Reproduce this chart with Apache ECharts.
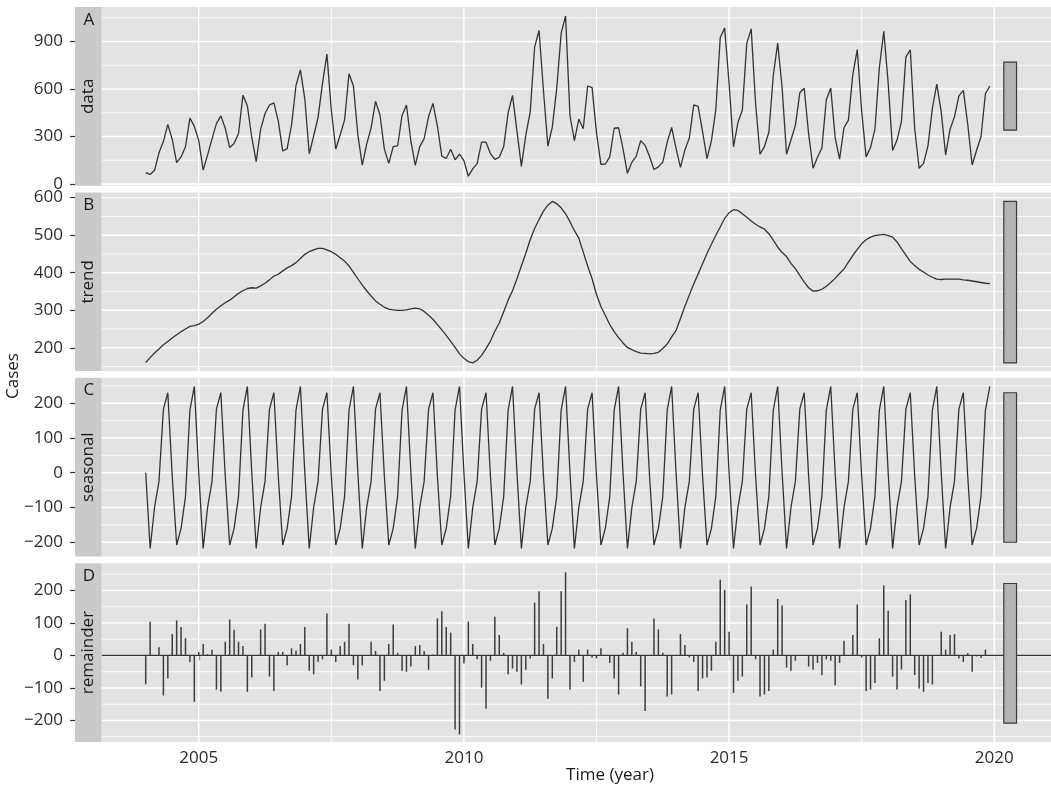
<!DOCTYPE html>
<html><head><meta charset="utf-8">
<script src="https://cdn.jsdelivr.net/npm/echarts@6/dist/echarts.min.js"></script>
<style>html,body{margin:0;padding:0;background:#fff}#c{width:1051px;height:789px}</style>
</head><body><div id="c"></div>
<script>
// ---- data (monthly, Jan 2004 - Dec 2019) ----
const startYear = 2004;
const frequency = 12;
const dataValues = [
 72,60,86,197,268,376,282,135,171,235,417,364,
 274,87,184,285,381,430,352,230,255,319,561,494,
 292,141,345,445,499,512,397,208,223,373,622,721,
 537,191,303,421,636,820,464,221,309,405,696,619,
 310,119,252,355,522,437,220,130,236,240,433,499,
 270,117,236,286,426,509,366,176,161,219,153,189,
 147,49,95,130,264,264,192,155,169,236,449,560,
 334,111,308,454,864,970,589,239,359,604,951,1061,
 431,274,410,349,619,608,323,124,126,171,352,355,
 221,67,137,176,274,244,174,91,108,138,264,357,
 225,105,215,290,500,490,330,160,272,470,925,985,
 633,235,388,467,888,980,507,188,236,327,685,890,
 608,188,278,370,576,605,316,99,169,227,532,606,
 293,157,355,403,692,849,461,171,230,346,734,965,
 637,212,277,396,801,848,349,99,130,241,479,631,
 455,183,346,424,557,591,377,120,213,298,570,619
];
const trendValues = [
 161,174,186,197,208,217,226,235,243,250,257,259,
 263,270,280,292,303,312,320,327,336,345,352,358,
 360,359,365,372,381,391,396,405,413,419,427,438,
 449,456,461,465,465,461,456,449,440,431,418,401,
 384,367,352,338,325,316,308,303,301,300,300,301,
 304,306,304,297,287,276,262,248,233,217,201,184,
 172,163,160,167,180,198,218,244,266,296,327,352,
 384,418,452,488,518,542,564,580,590,584,573,557,
 536,512,492,455,418,384,342,310,286,262,243,227,
 213,201,195,190,186,185,184,185,188,198,210,229,
 246,278,311,341,370,397,424,451,476,500,522,545,
 560,568,566,557,548,538,529,522,516,504,487,468,
 454,443,425,411,393,375,360,351,352,356,364,374,
 385,398,410,428,446,462,477,488,495,499,501,502,
 499,495,482,464,447,430,419,409,402,394,388,383,
 382,383,383,383,383,381,380,378,376,374,372,371
];
const seasonalValues = [
 0,-218,-100,-25,183,230,-10,-208,-160,-68,180,248,
 0,-218,-100,-25,183,230,-10,-208,-160,-68,180,248,
 0,-218,-100,-25,183,230,-10,-208,-160,-68,180,248,
 0,-218,-100,-25,183,230,-10,-208,-160,-68,180,248,
 0,-218,-100,-25,183,230,-10,-208,-160,-68,180,248,
 0,-218,-100,-25,183,230,-10,-208,-160,-68,180,248,
 0,-218,-100,-25,183,230,-10,-208,-160,-68,180,248,
 0,-218,-100,-25,183,230,-10,-208,-160,-68,180,248,
 0,-218,-100,-25,183,230,-10,-208,-160,-68,180,248,
 0,-218,-100,-25,183,230,-10,-208,-160,-68,180,248,
 0,-218,-100,-25,183,230,-10,-208,-160,-68,180,248,
 0,-218,-100,-25,183,230,-10,-208,-160,-68,180,248,
 0,-218,-100,-25,183,230,-10,-208,-160,-68,180,248,
 0,-218,-100,-25,183,230,-10,-208,-160,-68,180,248,
 0,-218,-100,-25,183,230,-10,-208,-160,-68,180,248,
 0,-218,-100,-25,183,230,-10,-208,-160,-68,180,248
];
const remainderValues = [
 -89,104,0,25,-123,-71,66,108,88,53,-20,-143,
 11,35,4,18,-105,-112,42,111,79,42,29,-112,
 -68,0,80,98,-65,-109,11,11,-30,22,15,35,
 88,-47,-58,-19,-12,129,18,-20,29,42,98,-30,
 -74,-30,0,42,14,-109,-78,35,95,8,-47,-50,
 -34,29,32,14,-44,3,114,136,88,70,-228,-243,
 -25,104,35,-12,-99,-164,-16,119,63,8,-58,-40,
 -50,-89,-44,-9,163,198,35,-133,-71,88,198,256,
 -105,-20,18,-81,18,-6,-9,22,0,-23,-71,-120,
 8,84,42,11,-95,-171,0,114,80,8,-126,-120,
 0,66,32,-6,-20,-109,-71,-68,-47,42,233,202,
 73,-115,-78,-65,157,212,-12,-126,-120,-109,18,174,
 154,-37,-47,-16,0,0,-34,-44,-23,-61,-12,-16,
 -92,-23,45,0,63,157,-6,-109,-105,-85,53,215,
 138,-65,-105,-43,171,188,-60,-102,-112,-85,-89,0,
 73,18,63,66,-9,-20,7,-50,-3,-8,18,0
];
const panelNames = ['data', 'trend', 'seasonal', 'remainder'];
const panelLetters = ['A', 'B', 'C', 'D'];
const xTickLabels = [2005, 2010, 2015, 2020];
const xMinorBreaks = [2007.5, 2012.5, 2017.5];
const yTickLabels = [[0, 300, 600, 900], [200, 300, 400, 500, 600], [-200, -100, 0, 100, 200], [-200, -100, 0, 100, 200]];
const yMinorBreaks = [[150, 450, 750, 1050], [150, 250, 350, 450, 550], [-150, -50, 50, 150, 250], [-250, -150, -50, 50, 150, 250]];
const yLimits = [[-11, 1118], [138, 614], [-241, 273], [-266, 284]];
const xLimits = [2003.17, 2021.07];
const rangeBarX = [2020.18, 2020.42];
const xTitle = 'Time (year)';
const yTitle = 'Cases';

// ---- layout ----
const FONT = '"Open Sans", "Noto Sans", sans-serif';
const panelLeft = 101.7, stripW = 26.7, panelH = 178.7, panelTops = [7, 192.4, 377.8, 563.2];
const series4 = [dataValues, trendValues, seasonalValues, remainderValues];
const timeOf = k => startYear + k / frequency;

const trendHalf = (Math.max(...trendValues) - Math.min(...trendValues)) / 2;

const grids = [], xAxes = [], yAxes = [], series = [], graphics = [];
const fmt = v => v < 0 ? '\u2212' + (-v) : String(v);

for (let i = 0; i < 4; i++) {
  grids.push({left: panelLeft, right: 0, top: panelTops[i], height: panelH, show: true,
    backgroundColor: '#E3E3E4', borderWidth: 0, containLabel: false});
  const last = i === 3;
  xAxes.push({gridIndex: i, type: 'value', min: xLimits[0], max: xLimits[1],
    axisLine: {show: false}, splitLine: {show: false},
    axisTick: {show: last, customValues: xTickLabels, length: 5, lineStyle: {color: '#333', width: 1.2}},
    axisLabel: {show: last, customValues: xTickLabels, fontSize: 17, fontFamily: FONT, color: '#2e2e2e', margin: 8,
      formatter: v => String(v)}
  });
  yAxes.push({gridIndex: i, type: 'value', min: yLimits[i][0], max: yLimits[i][1], offset: stripW,
    axisLine: {show: false}, splitLine: {show: false},
    axisTick: {show: true, customValues: yTickLabels[i], length: 5, lineStyle: {color: '#333', width: 1.2}},
    axisLabel: {customValues: yTickLabels[i], fontSize: 17, fontFamily: FONT, color: '#2e2e2e', margin: 12, formatter: fmt}
  });
  // grid lines (minor then major), drawn through the axes' scales
  const gl = [];
  yMinorBreaks[i].forEach(v => gl.push([0, v, 0]));
  xMinorBreaks.forEach(v => gl.push([1, v, 0]));
  yTickLabels[i].forEach(v => gl.push([0, v, 1]));
  xTickLabels.forEach(v => gl.push([1, v, 1]));
  if (last) gl.push([0, 0, 2]);
  series.push({type: 'custom', xAxisIndex: i, yAxisIndex: i, z: 1, silent: true, data: gl,
    renderItem: (params, api) => {
      const cs = params.coordSys;
      const o = api.value(0), v = api.value(1), m = api.value(2);
      const stroke = m === 2 ? '#333333' : '#ffffff';
      const lw = m === 2 ? 1.2 : (m === 1 ? 1.4 : 0.8);
      if (o === 0) {
        const y = api.coord([xLimits[0], v])[1];
        return {type: 'line', shape: {x1: cs.x, y1: y, x2: cs.x + cs.width, y2: y}, style: {stroke, lineWidth: lw}};
      }
      const x = api.coord([v, yLimits[i][0]])[0];
      return {type: 'line', shape: {x1: x, y1: cs.y, x2: x, y2: cs.y + cs.height}, style: {stroke, lineWidth: lw}};
    }
  });
  const vals = series4[i];
  if (!last) {
    series.push({type: 'line', xAxisIndex: i, yAxisIndex: i, z: 3, showSymbol: false, silent: true,
      data: vals.map((v, k) => [timeOf(k), v]),
      lineStyle: {color: '#333333', width: 1.3}});
  } else {
    series.push({type: 'custom', xAxisIndex: i, yAxisIndex: i, z: 3, silent: true,
      data: vals.map((v, k) => [timeOf(k), v]),
      renderItem: (params, api) => {
        const p0 = api.coord([api.value(0), 0]);
        const p1 = api.coord([api.value(0), api.value(1)]);
        return {type: 'line', shape: {x1: p0[0], y1: p0[1], x2: p1[0], y2: p1[1]}, style: {stroke: '#3d3d3d', lineWidth: 1.5}};
      }
    });
  }
  // range bar: same data length in every panel, centred on the panel's range
  const mid = (Math.max(...vals) + Math.min(...vals)) / 2;
  series.push({type: 'custom', xAxisIndex: i, yAxisIndex: i, z: 4, silent: true,
    data: [[rangeBarX[0], rangeBarX[1], mid - trendHalf, mid + trendHalf]],
    renderItem: (params, api) => {
      const a = api.coord([api.value(0), api.value(3)]);
      const b = api.coord([api.value(1), api.value(2)]);
      return {type: 'rect', shape: {x: a[0], y: a[1], width: b[0] - a[0], height: b[1] - a[1]},
        style: {fill: '#B3B3B3', stroke: '#3a3a3a', lineWidth: 1.2}};
    }
  });
  // strip
  graphics.push({type: 'rect', left: panelLeft - stripW, top: panelTops[i], z: 0,
    shape: {x: 0, y: 0, width: stripW, height: panelH}, style: {fill: '#CACACB'}, silent: true});
  graphics.push({type: 'text', x: panelLeft - stripW / 2, y: panelTops[i] + panelH / 2, rotation: Math.PI / 2, z: 5,
    style: {text: panelNames[i], fontSize: 17, fontFamily: FONT, fill: '#1a1a1a', align: 'center', verticalAlign: 'middle'}, silent: true});
  graphics.push({type: 'text', x: panelLeft - stripW / 2 + 0.5, y: panelTops[i] + 12.7, z: 5,
    style: {text: panelLetters[i], fontSize: 17, fontFamily: FONT, fill: '#1a1a1a', align: 'center', verticalAlign: 'middle'}, silent: true});
}
graphics.push({type: 'text', x: 610, y: 775.5, z: 5,
  style: {text: xTitle, fontSize: 17, fontFamily: FONT, fill: '#1a1a1a', align: 'center', verticalAlign: 'middle'}, silent: true});
graphics.push({type: 'text', x: 13, y: 376, rotation: Math.PI / 2, z: 5,
  style: {text: yTitle, fontSize: 17, fontFamily: FONT, fill: '#1a1a1a', align: 'center', verticalAlign: 'middle'}, silent: true});

const chart = echarts.init(document.getElementById('c'), null, {renderer: 'canvas'});
chart.setOption({animation: false, backgroundColor: '#ffffff', grid: grids, xAxis: xAxes, yAxis: yAxes, series, graphic: graphics});
</script></body></html>
